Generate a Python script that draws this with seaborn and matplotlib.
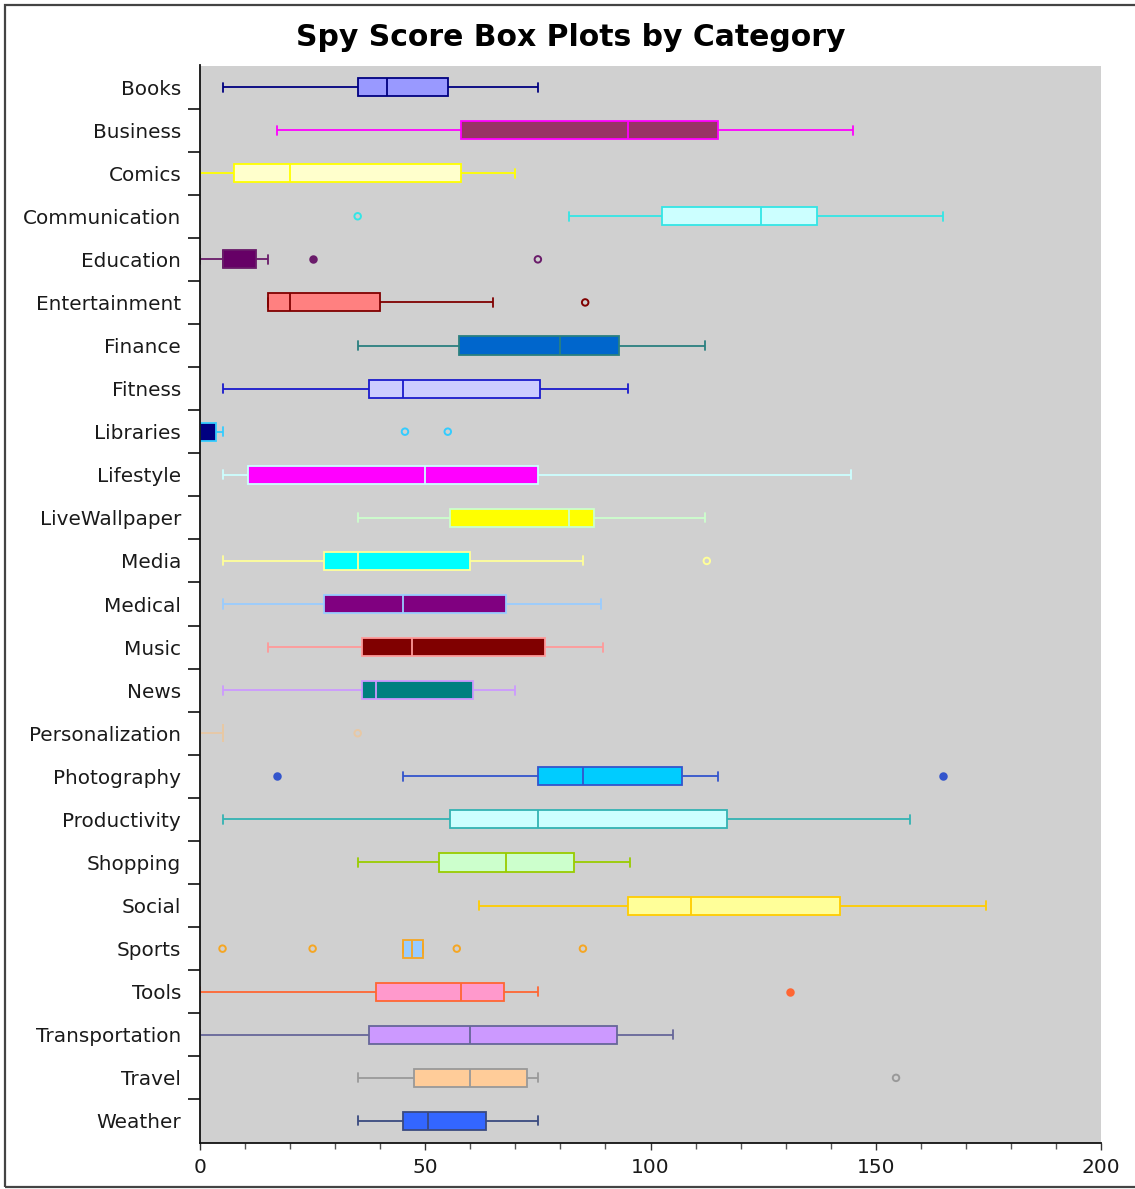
import numpy as np
import pandas as pd
import matplotlib
matplotlib.use("Agg")
import matplotlib.pyplot as plt
from matplotlib.patches import Rectangle
from matplotlib.ticker import FixedLocator, MultipleLocator
import seaborn as sns

# Five-number summaries of the spy score per app category
categories = ["Books", "Business", "Comics", "Communication", "Education",
              "Entertainment", "Finance", "Fitness", "Libraries", "Lifestyle",
              "LiveWallpaper", "Media", "Medical", "Music", "News",
              "Personalization", "Photography", "Productivity", "Shopping",
              "Social", "Sports", "Tools", "Transportation", "Travel", "Weather"]
whisker_low = [5, 17, 0, 82, 0, 15, 35, 5, 0, 5, 35, 5, 5, 15, 5, 0, 45, 5,
               35, 62, 45, 0, 0, 35, 35]
q1 = [35, 58, 7.5, 102.5, 5, 15, 57.5, 37.5, 0, 10.7, 55.5, 27.5, 27.5, 36,
      36, 5, 75, 55.5, 53, 95, 45, 39, 37.5, 47.5, 45]
median = [41.5, 95, 20, 124.5, 5, 20, 80, 45, 0, 50, 82, 35, 45, 47, 39, 5,
          85, 75, 68, 109, 47, 58, 60, 60, 50.5]
q3 = [55, 115, 58, 137, 12.5, 40, 93, 75.5, 3.5, 75, 87.5, 60, 68, 76.5,
      60.5, 5, 107, 117, 83, 142, 49.5, 67.5, 92.5, 72.5, 63.5]
whisker_high = [75, 145, 70, 165, 15, 65, 112, 95, 5, 144.5, 112, 85, 89,
                89.5, 70, 5, 115, 157.5, 95.5, 174.5, 49.5, 75, 105, 75, 75]

# Points beyond the whiskers
outlier_category = ["Communication", "Education", "Education", "Entertainment",
                    "Libraries", "Libraries", "Media", "Personalization",
                    "Photography", "Photography", "Sports", "Sports", "Sports",
                    "Sports", "Tools", "Travel"]
outlier_value = [35, 25, 75, 85.5, 45.5, 55, 112.5, 35, 17, 165, 5, 25, 57,
                 85, 131, 154.5]
outlier_filled = [False, True, False, False, False, False, False, False,
                  True, True, False, False, False, False, True, False]

fill_colors = ["#9999ff", "#993366", "#ffffcc", "#ccffff", "#660066",
               "#ff8080", "#0066cc", "#ccccff", "#000080", "#ff00ff",
               "#ffff00", "#00ffff", "#800080", "#800000", "#008080",
               "#ffcc99", "#00ccff", "#ccffff", "#ccffcc", "#ffff99",
               "#99ccff", "#ff99cc", "#cc99ff", "#ffcc99", "#3366ff"]
line_colors = ["#000080", "#ff00ff", "#ffff00", "#33e6e6", "#6a1b6a",
               "#800000", "#2a8080", "#1a1acc", "#33ccff", "#ccffff",
               "#ccffcc", "#ffff99", "#99ccff", "#ff9999", "#cc99ff",
               "#e8c8a4", "#3355cc", "#33b3b3", "#99cc00", "#ffcc00",
               "#f5a623", "#ff6633", "#666699", "#999999", "#3a4a80"]

x_ticks = [0, 50, 100, 150, 200]

sns.set_theme(style="white")
plt.rcParams["font.family"] = ["DejaVu Sans"]

W, H = 1135, 1189
fig = plt.figure(figsize=(W / 100, H / 100), dpi=100)
fig.patch.set_facecolor("white")
ax = fig.add_axes([200 / W, 1 - 1142.5 / H, 901 / W, 1077 / H])
ax.set_facecolor("#d0d0d0")

# long-form table: each category contributes its summary values
rows = []
for i, cat in enumerate(categories):
    for v in (whisker_low[i], q1[i], median[i], q3[i], whisker_high[i]):
        rows.append({"category": cat, "score": v})
df = pd.DataFrame(rows)

for i, cat in enumerate(categories):
    sns.boxplot(data=df[df["category"] == cat], x="score", y="category",
                order=categories, orient="h", whis=(0, 100), width=0.42,
                color=fill_colors[i], linecolor=line_colors[i], linewidth=1.3,
                saturation=1, showfliers=False, ax=ax)

pos = {c: k for k, c in enumerate(categories)}
for cat, val, filled in zip(outlier_category, outlier_value, outlier_filled):
    col = line_colors[pos[cat]]
    ax.scatter([val], [pos[cat]], s=22, facecolors=col if filled else "none",
               edgecolors=col, linewidths=1.4, zorder=5)

ax.set_xlim(0, 200)
ax.set_ylim(len(categories) - 0.5, -0.5)
ax.set_xlabel("")
ax.set_ylabel("")

ax.xaxis.set_major_locator(FixedLocator(x_ticks))
ax.xaxis.set_minor_locator(MultipleLocator(10))
ax.tick_params(axis="x", which="major", direction="out", length=5, width=1,
               color="#333333", labelsize=14.5, pad=6.5, labelcolor="#1a1a1a",
               bottom=True)
ax.tick_params(axis="x", which="minor", direction="out", length=4, width=1,
               color="#555555", bottom=True)

ax.yaxis.set_minor_locator(FixedLocator(np.arange(0.5, len(categories) - 1, 1)))
ax.tick_params(axis="y", which="major", length=0, labelsize=14.4, pad=13.5,
               labelcolor="#1a1a1a", left=True)
ax.tick_params(axis="y", which="minor", direction="out", length=8.6, width=1.2,
               color="#111111", left=True)

for side in ("top", "right"):
    ax.spines[side].set_visible(False)
for side in ("left", "bottom"):
    ax.spines[side].set_color("#111111")
    ax.spines[side].set_linewidth(1.3)

fig.text(571 / W, 1 - 37 / H, "Spy Score Box Plots by Category",
         ha="center", va="center", fontsize=21.5, fontweight="bold",
         color="#000000")

fig.patches.append(Rectangle((5 / W, 2 / H), 1.05, (1187 - 5) / H,
                             transform=fig.transFigure, fill=False,
                             edgecolor="#444444", linewidth=1.6))

fig.savefig("out.png", dpi=100)
